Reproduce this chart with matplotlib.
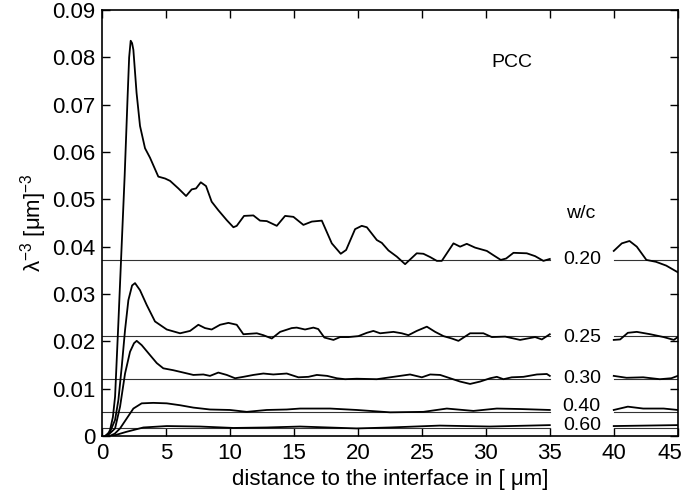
import matplotlib
matplotlib.use('Agg')
import matplotlib.pyplot as plt
import matplotlib.transforms as mtransforms

plt.rcParams['font.family'] = ['Liberation Sans', 'DejaVu Sans']
plt.rcParams['mathtext.fontset'] = 'custom'
plt.rcParams['mathtext.rm'] = 'Liberation Sans'
plt.rcParams['mathtext.it'] = 'Liberation Sans:italic'

# w/c labels and the reference level of each mix
wc_labels = ['0.20', '0.25', '0.30', '0.40', '0.60']
ref_levels = [0.0372, 0.0212, 0.0120, 0.0051, 0.0016]

# curves, 0 - 35 um
c20_x = [0.4, 0.63, 0.85, 1.02, 1.28, 1.5, 1.77, 2.0, 2.12, 2.24, 2.35, 2.45, 2.7, 2.97, 3.36,
         3.75, 4.4, 4.93, 5.32, 5.97, 6.57, 7.01, 7.35, 7.72, 8.13, 8.57, 9.09, 9.75, 10.27, 10.53,
         11.1, 11.83, 12.35, 12.88, 13.66, 14.31, 14.96, 15.74, 16.4, 17.18, 17.96, 18.66, 19.08,
         19.78, 20.3, 20.7, 21.48, 21.87, 22.39, 23.04, 23.69, 24.6, 25.12, 25.65, 26.17, 26.56,
         27.47, 27.99, 28.51, 29.16, 30.08, 30.59, 31.17, 31.59, 32.16, 33.2, 33.85, 34.5, 35.0]
c20_y = [0.0, 0.0013, 0.004, 0.0083, 0.024, 0.038, 0.055, 0.0717, 0.080, 0.0835, 0.083, 0.0816,
         0.0725, 0.0655, 0.0608, 0.0588, 0.0548, 0.0544, 0.0539, 0.0523, 0.0507, 0.0521, 0.0523,
         0.0536, 0.0528, 0.0495, 0.0477, 0.0456, 0.0441, 0.0444, 0.0465, 0.0466, 0.0455, 0.0454,
         0.0444, 0.0465, 0.0463, 0.0446, 0.0453, 0.0455, 0.0407, 0.0385, 0.0393, 0.0437, 0.0444,
         0.0441, 0.0414, 0.0408, 0.0392, 0.0379, 0.0363, 0.0386, 0.0385, 0.0378, 0.037, 0.037,
         0.0407, 0.040, 0.0406, 0.0398, 0.0391, 0.0382, 0.0372, 0.0375, 0.0387, 0.0386, 0.038,
         0.037, 0.0374]

c25_x = [0.23, 0.63, 1.02, 1.28, 1.54, 1.8, 2.06, 2.35, 2.58, 2.97, 3.49, 4.14, 5.06, 6.1, 6.88,
         7.53, 8.05, 8.57, 9.23, 9.88, 10.53, 11.05, 12.1, 12.61, 13.27, 13.92, 14.83, 15.22, 15.87,
         16.52, 16.9, 17.38, 18.09, 18.61, 19.26, 20.04, 20.7, 21.21, 21.74, 22.78, 23.43, 23.95,
         24.6, 25.39, 26.04, 26.69, 27.34, 27.86, 28.77, 29.81, 30.47, 31.51, 32.68, 33.85, 34.38, 35.0]
c25_y = [0.0, 0.0009, 0.0034, 0.0076, 0.0146, 0.0224, 0.0287, 0.0318, 0.0323, 0.0308, 0.0277,
         0.0242, 0.0225, 0.0217, 0.0222, 0.0235, 0.0228, 0.0225, 0.0235, 0.0239, 0.0235, 0.0215,
         0.0217, 0.0213, 0.0206, 0.022, 0.0228, 0.0229, 0.0225, 0.0229, 0.0226, 0.0208, 0.0203,
         0.0209, 0.0209, 0.0211, 0.0218, 0.0222, 0.0217, 0.022, 0.0217, 0.0213, 0.0222, 0.0231,
         0.022, 0.0211, 0.0206, 0.0201, 0.0217, 0.0217, 0.0209, 0.021, 0.0203, 0.0209, 0.0204, 0.0215]

c30_x = [0.4, 1.02, 1.41, 1.8, 2.19, 2.5, 2.71, 3.1, 3.75, 4.28, 4.79, 5.57, 6.36, 7.14, 7.92,
         8.44, 9.09, 9.75, 10.4, 11.05, 11.83, 12.61, 13.39, 14.44, 15.35, 16.13, 16.79, 17.6,
         18.35, 19.0, 19.91, 21.48, 22.52, 24.08, 25.0, 25.65, 26.43, 27.21, 27.99, 28.77, 29.55,
         30.34, 30.86, 31.38, 32.03, 32.94, 33.99, 34.77, 35.0]
c30_y = [0.0, 0.0016, 0.0062, 0.0132, 0.0178, 0.0196, 0.0201, 0.0192, 0.0171, 0.0154, 0.0143,
         0.0139, 0.0134, 0.0129, 0.013, 0.0127, 0.0134, 0.0129, 0.0122, 0.0125, 0.0129, 0.0132,
         0.013, 0.0132, 0.0124, 0.0125, 0.0129, 0.0127, 0.0122, 0.012, 0.0121, 0.012, 0.0124,
         0.013, 0.0124, 0.013, 0.0129, 0.0122, 0.0115, 0.011, 0.0115, 0.0122, 0.0125, 0.012,
         0.0124, 0.0125, 0.013, 0.0131, 0.0127]

c40_x = [0.6, 1.0, 1.41, 1.93, 2.45, 3.1, 4.01, 5.06, 6.1, 7.14, 8.44, 10.0, 11.31, 12.88, 14.44,
         15.48, 17.83, 19.91, 22.52, 25.12, 26.95, 29.03, 30.86, 32.68, 35.0]
c40_y = [0.0, 0.0005, 0.0016, 0.0037, 0.0058, 0.0069, 0.007, 0.0069, 0.0065, 0.006, 0.0056,
         0.0055, 0.0051, 0.0055, 0.0056, 0.0058, 0.0058, 0.0055, 0.005, 0.0051, 0.0058, 0.0053,
         0.0058, 0.0057, 0.0055]

c60_x = [0.8, 1.93, 3.23, 5.06, 7.66, 10.27, 12.88, 15.48, 19.9, 22.5, 26.4, 30.3, 35.0]
c60_y = [0.0, 0.0009, 0.0018, 0.0021, 0.002, 0.0017, 0.0018, 0.002, 0.0016, 0.0018, 0.0022,
         0.002, 0.0023]

# curves, 40 - 45 um
s20_x = [40.0, 40.63, 41.23, 41.8, 42.55, 43.3, 44.1, 45.0]
s20_y = [0.0391, 0.0407, 0.0412, 0.040, 0.0372, 0.0368, 0.036, 0.0346]
s25_x = [40.0, 40.5, 41.1, 41.8, 42.85, 43.9, 44.7, 45.0]
s25_y = [0.0203, 0.0204, 0.0218, 0.022, 0.0215, 0.0209, 0.0203, 0.0209]
s30_x = [40.0, 41.0, 42.3, 43.6, 44.5, 45.0]
s30_y = [0.0127, 0.0123, 0.0124, 0.012, 0.0122, 0.0127]
s40_x = [40.0, 41.1, 42.3, 43.9, 45.0]
s40_y = [0.0055, 0.0062, 0.0058, 0.0058, 0.0055]
s60_x = [40.0, 42.5, 45.0]
s60_y = [0.0021, 0.0022, 0.0023]

x_ticks = [0, 5, 10, 15, 20, 25, 30, 35, 40, 45]
y_ticks = [0, 0.01, 0.02, 0.03, 0.04, 0.05, 0.06, 0.07, 0.08, 0.09]
y_tick_labels = ['0', '0.01', '0.02', '0.03', '0.04', '0.05', '0.06', '0.07', '0.08', '0.09']

fig = plt.figure(figsize=(6.87, 5.0), dpi=100)
ax = fig.add_axes([0.1485, 0.128, 0.838, 0.852])

# reference levels
for lvl in ref_levels:
    ax.plot([0, 35], [lvl, lvl], color='#333333', lw=0.8)
    ax.plot([40, 45], [lvl, lvl], color='#333333', lw=0.8)

main = [(c20_x, c20_y), (c25_x, c25_y), (c30_x, c30_y), (c40_x, c40_y), (c60_x, c60_y)]
tail = [(s20_x, s20_y), (s25_x, s25_y), (s30_x, s30_y), (s40_x, s40_y), (s60_x, s60_y)]
for xs, ys in main + tail:
    ax.plot(xs, ys, color='black', lw=1.3)

# w/c labels in the gap
label_y = [0.0372, 0.0209, 0.0122, 0.0063, 0.0023]
for lab, ly in zip(wc_labels, label_y):
    ax.text(37.5, ly, lab, ha='center', va='center', fontsize=14)
ax.text(37.4, 0.0471, 'w/c', ha='center', va='center', fontsize=14)
ax.text(32.06, 0.0790, 'PCC', ha='center', va='center', fontsize=14)

ax.set_xlim(0, 45)
ax.set_ylim(0, 0.09)
ax.set_xticks(x_ticks)
ax.set_yticks(y_ticks)
ax.set_yticklabels(y_tick_labels)
ax.tick_params(direction='in', top=True, right=True, length=6, width=1, labelsize=16, pad=5)
for sp in ax.spines.values():
    sp.set_linewidth(1.2)

# last x label sits a little to the left so it stays inside the figure
shift = mtransforms.ScaledTranslation(-6 / 72, 0, fig.dpi_scale_trans)
last = ax.get_xticklabels()[-1]
last.set_transform(last.get_transform() + shift)

ax.set_xlabel('distance to the interface in [ μm]', fontsize=16, labelpad=4)
ax.set_ylabel('λ$^{-3}$ [μm]$^{-3}$', fontsize=16, labelpad=2)

fig.savefig('out.png', dpi=100)
